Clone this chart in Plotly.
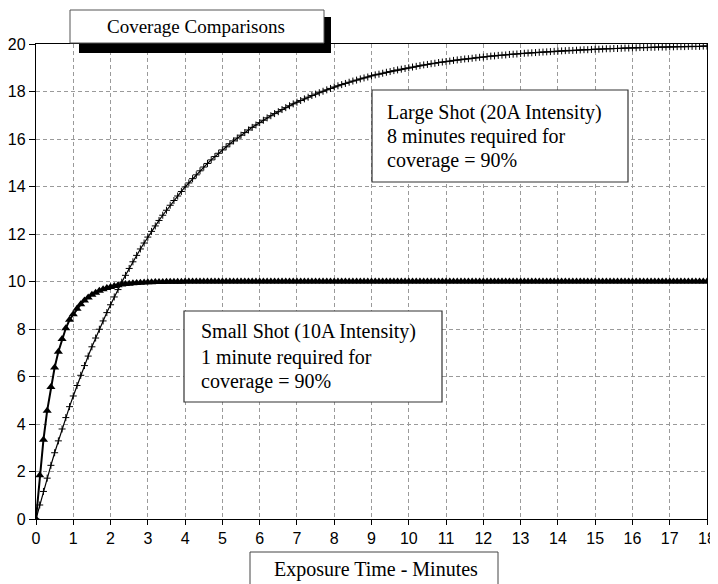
import plotly.graph_objects as go

# ---------------- data ----------------
minutes = [
    0.0, 0.1, 0.2, 0.3, 0.4, 0.5, 0.6, 0.7, 0.8, 0.9,
    1.0, 1.1, 1.2, 1.3, 1.4, 1.5, 1.6, 1.7, 1.8, 1.9,
    2.0, 2.1, 2.2, 2.3, 2.4, 2.5, 2.6, 2.7, 2.8, 2.9,
    3.0, 3.1, 3.2, 3.3, 3.4, 3.5, 3.6, 3.7, 3.8, 3.9,
    4.0, 4.1, 4.2, 4.3, 4.4, 4.5, 4.6, 4.7, 4.8, 4.9,
    5.0, 5.1, 5.2, 5.3, 5.4, 5.5, 5.6, 5.7, 5.8, 5.9,
    6.0, 6.1, 6.2, 6.3, 6.4, 6.5, 6.6, 6.7, 6.8, 6.9,
    7.0, 7.1, 7.2, 7.3, 7.4, 7.5, 7.6, 7.7, 7.8, 7.9,
    8.0, 8.1, 8.2, 8.3, 8.4, 8.5, 8.6, 8.7, 8.8, 8.9,
    9.0, 9.1, 9.2, 9.3, 9.4, 9.5, 9.6, 9.7, 9.8, 9.9,
    10.0, 10.1, 10.2, 10.3, 10.4, 10.5, 10.6, 10.7, 10.8, 10.9,
    11.0, 11.1, 11.2, 11.3, 11.4, 11.5, 11.6, 11.7, 11.8, 11.9,
    12.0, 12.1, 12.2, 12.3, 12.4, 12.5, 12.6, 12.7, 12.8, 12.9,
    13.0, 13.1, 13.2, 13.3, 13.4, 13.5, 13.6, 13.7, 13.8, 13.9,
    14.0, 14.1, 14.2, 14.3, 14.4, 14.5, 14.6, 14.7, 14.8, 14.9,
    15.0, 15.1, 15.2, 15.3, 15.4, 15.5, 15.6, 15.7, 15.8, 15.9,
    16.0, 16.1, 16.2, 16.3, 16.4, 16.5, 16.6, 16.7, 16.8, 16.9,
    17.0, 17.1, 17.2, 17.3, 17.4, 17.5, 17.6, 17.7, 17.8, 17.9,
    18.0,
]

small_shot = [
    0.00, 1.84, 3.34, 4.56, 5.56, 6.38, 7.04, 7.58, 8.03, 8.39,
    8.62, 8.85, 9.04, 9.20, 9.33, 9.44, 9.53, 9.61, 9.67, 9.73,
    9.77, 9.81, 9.84, 9.87, 9.89, 9.91, 9.93, 9.94, 9.95, 9.96,
    9.97, 9.97, 9.98, 9.98, 9.98, 9.99, 9.99, 9.99, 9.99, 9.99,
    10.0, 10.0, 10.0, 10.0, 10.0, 10.0, 10.0, 10.0, 10.0, 10.0,
    10.0, 10.0, 10.0, 10.0, 10.0, 10.0, 10.0, 10.0, 10.0, 10.0,
    10.0, 10.0, 10.0, 10.0, 10.0, 10.0, 10.0, 10.0, 10.0, 10.0,
    10.0, 10.0, 10.0, 10.0, 10.0, 10.0, 10.0, 10.0, 10.0, 10.0,
    10.0, 10.0, 10.0, 10.0, 10.0, 10.0, 10.0, 10.0, 10.0, 10.0,
    10.0, 10.0, 10.0, 10.0, 10.0, 10.0, 10.0, 10.0, 10.0, 10.0,
    10.0, 10.0, 10.0, 10.0, 10.0, 10.0, 10.0, 10.0, 10.0, 10.0,
    10.0, 10.0, 10.0, 10.0, 10.0, 10.0, 10.0, 10.0, 10.0, 10.0,
    10.0, 10.0, 10.0, 10.0, 10.0, 10.0, 10.0, 10.0, 10.0, 10.0,
    10.0, 10.0, 10.0, 10.0, 10.0, 10.0, 10.0, 10.0, 10.0, 10.0,
    10.0, 10.0, 10.0, 10.0, 10.0, 10.0, 10.0, 10.0, 10.0, 10.0,
    10.0, 10.0, 10.0, 10.0, 10.0, 10.0, 10.0, 10.0, 10.0, 10.0,
    10.0, 10.0, 10.0, 10.0, 10.0, 10.0, 10.0, 10.0, 10.0, 10.0,
    10.0, 10.0, 10.0, 10.0, 10.0, 10.0, 10.0, 10.0, 10.0, 10.0,
    10.0,
]

large_shot = [
    0.00, 0.59, 1.16, 1.72, 2.26, 2.79, 3.29, 3.79, 4.27, 4.73,
    5.18, 5.62, 6.05, 6.46, 6.86, 7.25, 7.62, 7.99, 8.34, 8.69,
    9.02, 9.35, 9.66, 9.97, 10.26, 10.55, 10.83, 11.10, 11.37, 11.62,
    11.87, 12.11, 12.34, 12.57, 12.79, 13.00, 13.21, 13.41, 13.60, 13.79,
    13.98, 14.15, 14.33, 14.49, 14.66, 14.82, 14.97, 15.12, 15.26, 15.40,
    15.54, 15.67, 15.80, 15.92, 16.04, 16.16, 16.27, 16.38, 16.49, 16.59,
    16.69, 16.79, 16.89, 16.98, 17.07, 17.15, 17.24, 17.32, 17.40, 17.48,
    17.55, 17.62, 17.69, 17.76, 17.83, 17.89, 17.95, 18.01, 18.07, 18.13,
    18.19, 18.24, 18.29, 18.34, 18.39, 18.44, 18.48, 18.53, 18.57, 18.61,
    18.66, 18.70, 18.73, 18.77, 18.81, 18.84, 18.88, 18.91, 18.94, 18.97,
    19.00, 19.03, 19.06, 19.09, 19.12, 19.14, 19.17, 19.19, 19.22, 19.24,
    19.26, 19.28, 19.31, 19.33, 19.35, 19.37, 19.38, 19.40, 19.42, 19.44,
    19.45, 19.47, 19.49, 19.50, 19.52, 19.53, 19.54, 19.56, 19.57, 19.58,
    19.60, 19.61, 19.62, 19.63, 19.64, 19.65, 19.66, 19.67, 19.68, 19.69,
    19.70, 19.71, 19.72, 19.73, 19.73, 19.74, 19.75, 19.76, 19.76, 19.77,
    19.78, 19.78, 19.79, 19.80, 19.80, 19.81, 19.81, 19.82, 19.83, 19.83,
    19.84, 19.84, 19.85, 19.85, 19.85, 19.86, 19.86, 19.87, 19.87, 19.87,
    19.88, 19.88, 19.89, 19.89, 19.89, 19.90, 19.90, 19.90, 19.90, 19.91,
    19.91,
]

x_ticks = [0, 1, 2, 3, 4, 5, 6, 7, 8, 9, 10, 11, 12, 13, 14, 15, 16, 17, 18]
y_ticks = [0, 2, 4, 6, 8, 10, 12, 14, 16, 18, 20]

title_text = "Coverage Comparisons"
x_title_text = "Exposure Time - Minutes"
large_lines = ["Large Shot (20A Intensity)", "8 minutes required for", "coverage = 90%"]
small_lines = ["Small Shot (10A Intensity)", "1 minute required for", "coverage = 90%"]

# ---------------- layout helpers ----------------
# The page body has an 8px margin, so the figure is placed at (8, 8) on screen.
OFF = 8
SCREEN_W, SCREEN_H = 718, 584
PLOT_L, PLOT_R, PLOT_T, PLOT_B = 36, 707, 44, 519   # plot area in screen pixels
PW, PH = PLOT_R - PLOT_L, PLOT_B - PLOT_T
W, H = SCREEN_W - OFF, SCREEN_H - OFF
L, T = PLOT_L - OFF, PLOT_T - OFF
R, B = W - L - PW, H - T - PH


def px(x):
    return (x - PLOT_L) / PW


def py(y):
    return (PLOT_B - y) / PH


SERIF = "Liberation Serif, Times New Roman, serif"
SANS = "Liberation Sans, Arial, sans-serif"

fig = go.Figure()

fig.add_trace(go.Scatter(
    x=minutes, y=large_shot, mode="lines+markers",
    line=dict(color="black", width=1.2),
    marker=dict(symbol="cross-thin", size=5, color="black",
                line=dict(color="black", width=1)),
    showlegend=False, hoverinfo="skip",
))
fig.add_trace(go.Scatter(
    x=minutes, y=small_shot, mode="lines+markers",
    line=dict(color="black", width=2),
    marker=dict(symbol="triangle-up", size=8, color="black"),
    showlegend=False, hoverinfo="skip",
))

shapes = []
# title box with shadow
shapes.append(dict(type="rect", xref="paper", yref="paper",
                   x0=px(79), x1=px(331), y0=py(53), y1=py(17),
                   fillcolor="black", line=dict(width=0), layer="above"))
shapes.append(dict(type="rect", xref="paper", yref="paper",
                   x0=px(70), x1=px(324), y0=py(43), y1=py(10),
                   fillcolor="white", line=dict(color="#555", width=1), layer="above"))
# large shot box
shapes.append(dict(type="rect", xref="paper", yref="paper",
                   x0=px(372), x1=px(628), y0=py(182), y1=py(90),
                   fillcolor="white", line=dict(color="#333", width=1.2), layer="above"))
# small shot box
shapes.append(dict(type="rect", xref="paper", yref="paper",
                   x0=px(184), x1=px(442), y0=py(402), y1=py(311),
                   fillcolor="white", line=dict(color="#333", width=1.2), layer="above"))
# x-axis title box
shapes.append(dict(type="rect", xref="paper", yref="paper",
                   x0=px(250), x1=px(498), y0=py(590), y1=py(552),
                   fillcolor="white", line=dict(color="#444", width=1), layer="above"))

annotations = []
annotations.append(dict(text=title_text, xref="paper", yref="paper",
                        x=px(196), y=py(27), xanchor="center", yanchor="middle",
                        showarrow=False, font=dict(family=SERIF, size=19, color="black")))
annotations.append(dict(text=x_title_text, xref="paper", yref="paper",
                        x=px(376), y=py(569), xanchor="center", yanchor="middle",
                        showarrow=False, font=dict(family=SERIF, size=20, color="black")))
for ln, yy in zip(large_lines, [112, 136, 160]):
    annotations.append(dict(text=ln, xref="paper", yref="paper",
                            x=px(385), y=py(yy), xanchor="left", yanchor="middle",
                            showarrow=False, font=dict(family=SERIF, size=20, color="black")))
for ln, yy in zip(small_lines, [332, 357, 381]):
    annotations.append(dict(text=ln, xref="paper", yref="paper",
                            x=px(199), y=py(yy), xanchor="left", yanchor="middle",
                            showarrow=False, font=dict(family=SERIF, size=20, color="black")))

grid_dash = "4px,3px"
fig.update_layout(
    width=W, height=H,
    margin=dict(l=L, r=R, t=T, b=B, pad=0),
    paper_bgcolor="white", plot_bgcolor="white",
    shapes=shapes, annotations=annotations,
    xaxis=dict(range=[0, 18], tickmode="array", tickvals=x_ticks,
               ticktext=[str(v) for v in x_ticks],
               showgrid=True, gridcolor="#9a9a9a", gridwidth=1, griddash=grid_dash,
               showline=True, linecolor="black", linewidth=1.3, mirror=True,
               ticks="outside", ticklen=5, tickcolor="black",
               tickfont=dict(family=SANS, size=16, color="black"),
               zeroline=False, automargin=False),
    yaxis=dict(range=[0, 20], tickmode="array", tickvals=y_ticks,
               ticktext=[str(v) for v in y_ticks],
               showgrid=True, gridcolor="#9a9a9a", gridwidth=1, griddash=grid_dash,
               showline=True, linecolor="black", linewidth=1.3, mirror=True,
               ticks="outside", ticklen=6, tickcolor="black",
               tickfont=dict(family=SANS, size=16, color="black"),
               zeroline=False, automargin=False),
)

fig.write_html("out.html")
